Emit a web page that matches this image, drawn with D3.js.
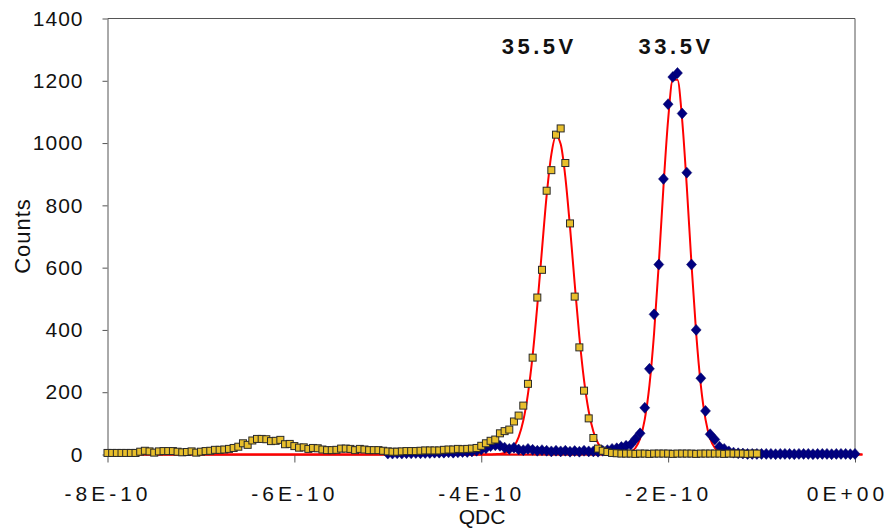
<!DOCTYPE html>
<html>
<head>
<meta charset="UTF-8">
<title>QDC spectra</title>
<script src="https://d3js.org/d3.v7.min.js"></script>
<style>
  body { margin: 0; background: #fff; }
  svg { display: block; font-family: "Liberation Sans", Arial, sans-serif; }
</style>
</head>
<body>
<div id="chart"></div>
<script>
// histogram bins, 5E-12 wide
const binStep = 5e-12;

// 35.5V run (yellow squares)
const start355 = -800e-12;
const counts355 = [
  5, 5, 5, 5, 5, 5, 5, 9, 12, 10,
  6, 10, 11, 11, 11, 9, 7, 8, 10, 6,
  9, 11, 12, 15, 15, 16, 18, 21, 25, 36,
  31, 45, 50, 50, 49, 43, 44, 47, 33, 34,
  27, 22, 23, 18, 21, 20, 16, 14, 14, 15,
  19, 19, 18, 14, 18, 16, 14, 14, 14, 12,
  10, 9, 9, 10, 11, 11, 11, 12, 13, 13,
  13, 13, 15, 16, 16, 18, 17, 18, 19, 21,
  28, 36, 44, 48, 68, 75, 80, 106, 125, 157,
  227, 311, 504, 593, 847, 913, 1027, 1047, 936, 742,
  507, 344, 205, 116, 53, 19, 12, 8, 5, 4,
  3, 3, 3, 2, 3, 3, 2, 3, 3, 3,
  3, 2, 3, 3, 3, 3, 2, 3, 3, 3,
  3, 3, 2, 3, 3, 3, 3, 2, 3, 3
];

// 33.5V run (blue diamonds)
const start335 = -500e-12;
const counts335 = [
  3, 3, 4, 3, 4, 4, 5, 4, 5, 5,
  6, 6, 6, 7, 6, 7, 8, 8, 10, 12,
  16, 20, 27, 30, 28, 22, 18, 22, 16, 14,
  18, 15, 12, 14, 12, 10, 12, 10, 12, 9,
  11, 9, 12, 10, 10, 9, 12, 14, 18, 20,
  24, 28, 32, 50, 68, 150, 275, 450, 610, 885,
  1125, 1212, 1225, 1095, 905, 610, 400, 245, 140, 65,
  48, 25, 18, 10, 6, 4, 3, 2, 2, 2,
  2, 2, 2, 1, 2, 2, 2, 1, 2, 2,
  2, 1, 2, 2, 2, 1, 2, 2, 2, 1,
  2
];

// gaussian fits (red); zero outside these bins
const fitStart355 = -385e-12;
const fit355 = [1, 2, 5, 11, 26, 56, 109, 195, 318, 478, 658, 832, 963, 1023,
  997, 891, 730, 549, 378, 239, 139, 74, 36, 16, 7, 2, 1];
const fitStart335 = -250e-12;
const fit335 = [1, 2, 8, 21, 51, 113, 222, 390, 612, 859, 1075, 1203, 1203,
  1075, 859, 612, 390, 222, 113, 51, 21, 8, 2, 1];
const fitRange = [-800e-12, 8e-12];

const yTicks = [0, 200, 400, 600, 800, 1000, 1200, 1400];
const xTicks = [-8e-10, -6e-10, -4e-10, -2e-10, 0];
const xTickLabels = ["-8E-10", "-6E-10", "-4E-10", "-2E-10", "0E+00"];
const peakLabels = ["35.5V", "33.5V"];
const peakLabelX = [-3.38e-10, -1.915e-10];

const width = 890, height = 528;

const svg = d3.select("#chart").append("svg")
  .attr("width", width)
  .attr("height", height);

const x = d3.scaleLinear().domain([-8e-10, 0]).range([107.5, 855]);
const y = d3.scaleLinear().domain([0, 1400]).range([454.5, 18.5]);

function toPoints(start, values) {
  return values.map((v, i) => ({ q: start + i * binStep, c: v }));
}

// fit curve padded with zeros over the whole range
function fitPoints(start, values) {
  const pts = [];
  const n0 = Math.round((start - fitRange[0]) / binStep);
  for (let i = 0; i < n0; i++) pts.push({ q: fitRange[0] + i * binStep, c: 0 });
  values.forEach((v, i) => pts.push({ q: start + i * binStep, c: v }));
  const last = start + (values.length - 1) * binStep;
  for (let q = last + binStep; q < fitRange[1]; q += binStep) pts.push({ q: q, c: 0 });
  pts.push({ q: fitRange[1], c: 0 });
  return pts;
}

// axes
const yAxis = svg.append("g")
  .attr("transform", `translate(${x(-8e-10)},0)`)
  .call(d3.axisLeft(y).tickValues(yTicks).tickSize(5).tickPadding(19)
    .tickSizeOuter(0).tickFormat(d3.format("d")));
yAxis.select(".domain").attr("stroke", "#555");
yAxis.selectAll(".tick line").attr("stroke", "#555");
yAxis.selectAll("text")
  .attr("font-size", 21)
  .attr("letter-spacing", 1)
  .attr("fill", "#111");

const xAxis = svg.append("g")
  .attr("transform", `translate(0,${y(0)})`)
  .call(d3.axisBottom(x).tickValues(xTicks).tickSize(8).tickSizeOuter(0)
    .tickFormat((d, i) => xTickLabels[i]));
xAxis.select(".domain").attr("stroke", "#555");
xAxis.selectAll(".tick line").attr("stroke", "#555");
xAxis.selectAll("text")
  .attr("y", 46).attr("dy", null)
  .attr("font-size", 21)
  .attr("letter-spacing", 4)
  .attr("fill", "#111");
// last label kept inside the picture, as in the original
xAxis.selectAll(".tick text").filter(d => d === 0).attr("x", -8);

// plot frame, top and right
svg.append("path")
  .attr("d", `M${x(-8e-10)},${y(1400)}H${x(0)}V${y(0)}`)
  .attr("fill", "none")
  .attr("stroke", "#555");

// axis titles
svg.append("text")
  .attr("x", 482).attr("y", 524)
  .attr("text-anchor", "middle")
  .attr("font-size", 21)
  .attr("fill", "#111")
  .text("QDC");

svg.append("text")
  .attr("transform", "translate(30,236) rotate(-90)")
  .attr("text-anchor", "middle")
  .attr("font-size", 22)
  .attr("letter-spacing", 1)
  .attr("fill", "#111")
  .text("Counts");

// red fits
const line = d3.line()
  .x(d => x(d.q))
  .y(d => y(d.c))
  .curve(d3.curveMonotoneX);

[fitPoints(fitStart355, fit355), fitPoints(fitStart335, fit335)].forEach(pts => {
  svg.append("path")
    .datum(pts)
    .attr("d", line)
    .attr("fill", "none")
    .attr("stroke", "#ff0000")
    .attr("stroke-width", 2);
});

// blue diamonds
svg.append("g").selectAll("path")
  .data(toPoints(start335, counts335))
  .join("path")
  .attr("d", "M0,-5.5L5,0L0,5.5L-5,0Z")
  .attr("transform", d => `translate(${x(d.q)},${y(d.c)})`)
  .attr("fill", "#000080")
  .attr("stroke", "#000060")
  .attr("stroke-width", 0.5);

// yellow squares
svg.append("g").selectAll("rect")
  .data(toPoints(start355, counts355))
  .join("rect")
  .attr("x", d => x(d.q) - 3.5)
  .attr("y", d => y(d.c) - 3.5)
  .attr("width", 7)
  .attr("height", 7)
  .attr("fill", "#e8bf2c")
  .attr("stroke", "#2a2a2a")
  .attr("stroke-width", 1);

// peak labels
svg.append("g").selectAll("text")
  .data(peakLabels)
  .join("text")
  .attr("x", (d, i) => x(peakLabelX[i]))
  .attr("y", 54)
  .attr("text-anchor", "middle")
  .attr("font-size", 22)
  .attr("font-weight", "bold")
  .attr("letter-spacing", 3.5)
  .attr("fill", "#111")
  .text(d => d);
</script>
</body>
</html>
